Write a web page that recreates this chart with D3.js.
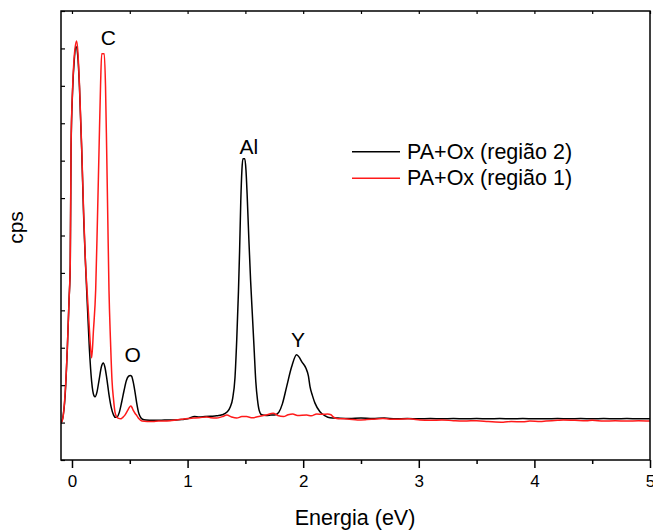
<!DOCTYPE html>
<html>
<head>
<meta charset="utf-8">
<script src="https://cdn.jsdelivr.net/npm/d3@7"></script>
<style>
  html, body { margin: 0; padding: 0; background: #fff; }
  svg { display: block; }
  text { font-family: "Liberation Sans", Arial, Helvetica, sans-serif; fill: #000; }
</style>
</head>
<body>
<svg id="chart" width="653" height="530"></svg>
<script>
// ---- data ----
const seriesNames = ["PA+Ox (região 2)", "PA+Ox (região 1)"];
const seriesColors = ["#000000", "#ff1a1a"];

const energyRegiao2 = [-0.095,-0.08,-0.06,-0.04,-0.025,-0.015,-0.008,0.005,0.02,0.035,0.05,0.065,0.084,0.1,0.127,0.15,0.17,0.19,0.2,0.215,0.235,0.255,0.271,0.285,0.3,0.32,0.34,0.36,0.375,0.39,0.41,0.43,0.45,0.47,0.49,0.505,0.516,0.53,0.545,0.56,0.575,0.59,0.61,0.64,0.7,0.75,0.8,0.85,0.9,0.95,1.0,1.03,1.06,1.1,1.15,1.2,1.25,1.3,1.34,1.37,1.39,1.41,1.425,1.44,1.45,1.46,1.47,1.478,1.495,1.505,1.515,1.53,1.545,1.56,1.575,1.59,1.605,1.62,1.64,1.68,1.72,1.76,1.79,1.82,1.857,1.9,1.943,1.965,1.987,2.024,2.045,2.059,2.08,2.102,2.145,2.19,2.232,2.3,2.4,2.5,2.6,2.7,2.8,2.9,3.0,3.1,3.2,3.3,3.4,3.5,3.6,3.7,3.8,3.9,4.0,4.1,4.2,4.3,4.4,4.5,4.6,4.7,4.8,4.9,5.0];
const cpsRegiao2 = [99,112,169,300,430,520,830,985,1070,1105,1080,995,829,660,455,300,210,172,169,180,215,250,259,248,220,175,140,120,114,115,128,155,185,212,224,226,224,208,182,152,128,116,109,107,106,106,107,107,107,108,110,114,116,115,116,117,118,121,128,142,165,220,320,450,560,690,775,805,805,775,710,590,480,390,300,210,160,132,121,119,120,121,128,150,196,249,281,275,263,245,225,196,172,152,129,118,113,112,111,112,111,112,110,111,110,111,110,111,110,111,110,111,110,111,110,110,111,110,111,110,111,110,111,110,110];

const energyRegiao1 = [-0.095,-0.08,-0.06,-0.04,-0.025,-0.015,-0.008,0.005,0.02,0.04,0.05,0.065,0.084,0.1,0.115,0.13,0.145,0.156,0.17,0.186,0.205,0.22,0.234,0.247,0.257,0.279,0.29,0.3,0.31,0.32,0.333,0.346,0.36,0.372,0.385,0.398,0.424,0.44,0.458,0.484,0.495,0.508,0.518,0.528,0.545,0.562,0.58,0.605,0.65,0.7,0.75,0.8,0.85,0.9,0.95,1.0,1.05,1.1,1.165,1.2,1.25,1.3,1.34,1.38,1.425,1.47,1.51,1.56,1.626,1.68,1.74,1.78,1.83,1.87,1.91,1.95,2.03,2.07,2.117,2.17,2.21,2.24,2.26,2.29,2.35,2.4,2.47,2.55,2.6,2.69,2.75,2.8,2.92,3.01,3.1,3.2,3.3,3.38,3.45,3.5,3.6,3.73,3.8,3.9,3.96,4.05,4.1,4.2,4.25,4.35,4.45,4.5,4.6,4.7,4.8,4.9,5.0];
const cpsRegiao1 = [99,110,175,300,430,525,840,990,1080,1120,1095,1000,835,670,540,455,380,321,273,348,455,640,829,1000,1086,1086,1000,829,640,455,320,214,160,128,116,112,110,114,120,134,140,144,141,134,125,118,110,104,103,103,104,104,105,107,109,111,112,113,115,113,112,116,120,115,112,116,116,113,117,120,125,119,116,121,123,119,120,118,123,122,123,121,115,111,110,109,107,108,109,111,109,109,110,107,106,107,105,104,105,105,103,101,103,102,104,103,104,106,107,106,105,106,104,105,104,105,104];

const xTickValues = [0, 1, 2, 3, 4, 5];
const xTickLabels = ["0", "1", "2", "3", "4", "5"];
const xMinorTicks = [0.5, 1.5, 2.5, 3.5, 4.5];
const yTickValues = [0,100,200,300,400,500,600,700,800,900,1000,1100,1200];

const peakLabels = ["C", "O", "Al", "Y"];
const peakEnergy = [0.318, 0.53, 1.535, 1.96];
const peakLabelCps = [1108, 263, 819, 302];

const xLabel = "Energia (eV)";
const yLabel = "cps";

// ---- layout ----
const svg = d3.select("#chart");
const plotLeft = 61, plotRight = 650, plotTop = 11, plotBottom = 460;

const x = d3.scaleLinear().domain([-0.095, 5.0]).range([plotLeft, plotRight]);
const y = d3.scaleLinear().domain([0, 1200]).range([plotBottom, plotTop]);

svg.append("defs").append("clipPath").attr("id", "plotclip")
  .append("rect").attr("x", plotLeft).attr("y", plotTop)
  .attr("width", plotRight - plotLeft).attr("height", plotBottom - plotTop);

// curves
const line = d3.line()
  .x(d => x(d[0])).y(d => y(d[1]))
  .curve(d3.curveMonotoneX);

const series = [
  energyRegiao2.map((e, i) => [e, cpsRegiao2[i]]),
  energyRegiao1.map((e, i) => [e, cpsRegiao1[i]])
];

const plot = svg.append("g").attr("clip-path", "url(#plotclip)");
series.forEach((s, i) => {
  plot.append("path").datum(s)
    .attr("d", line)
    .attr("fill", "none")
    .attr("stroke", seriesColors[i])
    .attr("stroke-width", 1.5)
    .attr("stroke-linejoin", "round");
});

// frame
svg.append("rect").attr("x", plotLeft).attr("y", plotTop)
  .attr("width", plotRight - plotLeft).attr("height", plotBottom - plotTop)
  .attr("fill", "none").attr("stroke", "#000").attr("stroke-width", 1.5);

// bottom axis
const xAxis = d3.axisBottom(x).tickValues(xTickValues)
  .tickFormat((d, i) => xTickLabels[i]).tickSize(8).tickPadding(7);
const gx = svg.append("g").attr("transform", `translate(0,${plotBottom})`).call(xAxis);
gx.select(".domain").remove();
gx.selectAll(".tick line").attr("stroke", "#000").attr("stroke-width", 1.5);
gx.selectAll(".tick text").style("font-size", "17px")
  .style("font-family", '"Liberation Sans", Arial, sans-serif');

const gxm = svg.append("g").attr("transform", `translate(0,${plotBottom})`)
  .call(d3.axisBottom(x).tickValues(xMinorTicks).tickSize(4).tickFormat(""));
gxm.select(".domain").remove();
gxm.selectAll(".tick line").attr("stroke", "#000").attr("stroke-width", 1.5);

// top axis ticks (inward)
const gt = svg.append("g").attr("transform", `translate(0,${plotTop})`)
  .call(d3.axisBottom(x).tickValues(xTickValues.concat(xMinorTicks)).tickSize(3).tickFormat(""));
gt.select(".domain").remove();
gt.selectAll(".tick line").attr("stroke", "#000").attr("stroke-width", 1.2);

// left axis ticks (inward, no labels)
const gy = svg.append("g").attr("transform", `translate(${plotLeft},0)`)
  .call(d3.axisRight(y).tickValues(yTickValues).tickSize(4).tickFormat(""));
gy.select(".domain").remove();
gy.selectAll(".tick line").attr("stroke", "#000").attr("stroke-width", 1.2);

// axis titles
svg.append("text").attr("x", 355).attr("y", 525)
  .attr("text-anchor", "middle").style("font-size", "21.5px").text(xLabel);
svg.append("text")
  .attr("transform", `translate(23,${227.5}) rotate(-90)`)
  .attr("text-anchor", "middle").style("font-size", "21px").text(yLabel);

// peak labels
peakLabels.forEach((t, i) => {
  svg.append("text").attr("x", x(peakEnergy[i]) - 0.5).attr("y", y(peakLabelCps[i]))
    .attr("text-anchor", "middle").style("font-size", "21px").text(t);
});

// legend
const legY = [151.7, 178.3];
seriesNames.forEach((n, i) => {
  svg.append("line").attr("x1", 352).attr("x2", 400)
    .attr("y1", legY[i]).attr("y2", legY[i])
    .attr("stroke", seriesColors[i]).attr("stroke-width", 1.5);
  svg.append("text").attr("x", 407).attr("y", legY[i] + 7)
    .style("font-size", "21.5px").text(n);
});
</script>
</body>
</html>
